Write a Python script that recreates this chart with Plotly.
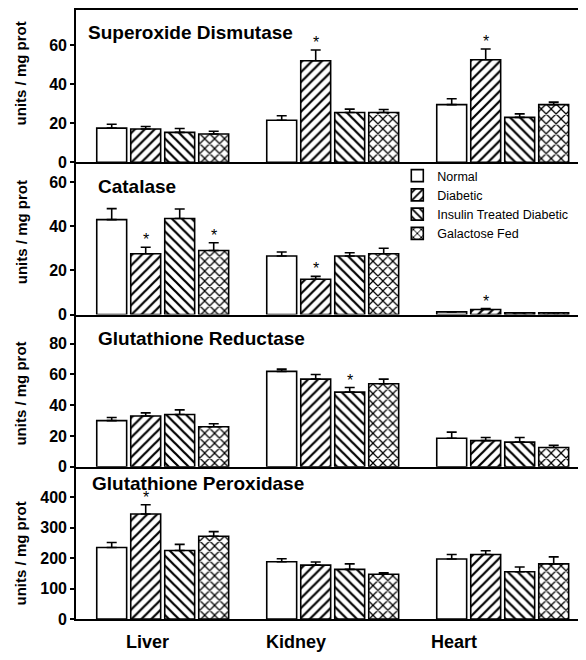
import plotly.graph_objects as go
from plotly.subplots import make_subplots

tissues = ["Liver", "Kidney", "Heart"]
groups = ["Normal", "Diabetic", "Insulin Treated Diabetic", "Galactose Fed"]
enzymes = ["Superoxide Dismutase", "Catalase", "Glutathione Reductase", "Glutathione Peroxidase"]

# rows = groups (Normal, Diabetic, Insulin Treated Diabetic, Galactose Fed); cols = tissues (Liver, Kidney, Heart)
sod_mean = [[17.5, 21.5, 29.5], [17.0, 52.0, 52.5], [15.3, 25.5, 23.0], [14.5, 25.5, 29.5]]
sod_err = [[2.0, 2.3, 3.0], [1.3, 5.5, 5.5], [2.0, 1.7, 1.8], [1.4, 1.5, 1.3]]
sod_sig = [[0, 0, 0], [0, 1, 1], [0, 0, 0], [0, 0, 0]]

cat_mean = [[43.0, 26.5, 1.2], [27.5, 16.0, 2.3], [43.5, 26.5, 0.8], [29.0, 27.5, 0.8]]
cat_err = [[5.0, 1.8, 0.0], [3.0, 1.3, 0.4], [4.3, 1.5, 0.0], [3.5, 2.5, 0.0]]
cat_sig = [[0, 0, 0], [1, 1, 1], [0, 0, 0], [1, 0, 0]]

gr_mean = [[30.0, 62.0, 18.5], [33.0, 57.0, 17.0], [34.0, 48.5, 16.0], [26.0, 54.0, 12.5]]
gr_err = [[2.0, 1.5, 4.0], [2.0, 3.0, 2.0], [3.0, 3.0, 3.0], [2.0, 3.0, 1.5]]
gr_sig = [[0, 0, 0], [0, 0, 0], [0, 1, 0], [0, 0, 0]]

gpx_mean = [[235, 188, 197], [345, 177, 212], [225, 163, 155], [272, 147, 181]]
gpx_err = [[16, 10, 15], [30, 10, 12], [20, 18, 16], [15, 5, 23]]
gpx_sig = [[0, 0, 0], [1, 0, 0], [0, 0, 0], [0, 0, 0]]

y_ranges = [[0, 78], [0, 69], [0, 99], [0, 500]]
y_ticks = [[0, 20, 40, 60], [0, 20, 40, 60], [0, 20, 40, 60, 80], [0, 100, 200, 300, 400]]

panels = [
    (sod_mean, sod_err, sod_sig),
    (cat_mean, cat_err, cat_sig),
    (gr_mean, gr_err, gr_sig),
    (gpx_mean, gpx_err, gpx_sig),
]

FONT = "Liberation Sans, Arial, Helvetica, sans-serif"
offsets = [-0.3, -0.1, 0.1, 0.3]
bar_width = 0.176
patterns = ["", "/", "\\", "x"]
xrefs = ["x", "x2", "x3", "x4"]
yrefs_data = ["y", "y2", "y3", "y4"]

fig = make_subplots(rows=4, cols=1, shared_xaxes=False, vertical_spacing=0)

for r, (means, errs, sigs) in enumerate(panels):
    row = r + 1
    for g, name in enumerate(groups):
        xs = [i + offsets[g] for i in range(len(tissues))]
        fig.add_trace(
            go.Bar(
                x=xs,
                y=means[g],
                width=bar_width,
                name=name,
                legendgroup=name,
                showlegend=(r == 0),
                marker=dict(
                    color="white",
                    line=dict(color="black", width=1.6),
                    pattern=dict(shape=patterns[g], fgcolor="black", bgcolor="white",
                                 fgopacity=1, size=7, solidity=0.32),
                ),
                error_y=dict(type="data", symmetric=False, array=errs[g],
                             arrayminus=[0] * len(tissues), color="black",
                             thickness=1.6, width=5),
            ),
            row=row, col=1,
        )
        for i in range(len(tissues)):
            if sigs[g][i]:
                fig.add_annotation(
                    text="*", xref=xrefs[r], yref=yrefs_data[r],
                    x=i + offsets[g], y=means[g][i] + errs[g][i],
                    xanchor="center", yanchor="bottom", yshift=-3,
                    showarrow=False,
                    font=dict(family=FONT, size=16, color="black"))
    fig.update_yaxes(
        range=y_ranges[r], tickvals=y_ticks[r], ticks="outside", ticklen=4,
        tickwidth=1.5, tickcolor="black", showline=True, linewidth=1.6,
        linecolor="black", showgrid=False, zeroline=False,
        tickfont=dict(family=FONT, size=16, color="black", weight="bold"),
        row=row, col=1,
    )
    fig.update_xaxes(
        range=[-0.51, 2.49], showline=True, linewidth=2, linecolor="black",
        mirror=(r == 0), showticklabels=False, ticks="", showgrid=False,
        zeroline=False, row=row, col=1,
    )

# the page puts the figure 8 px in from the top-left corner
fig.update_layout(
    barmode="overlay",
    width=578, height=652,
    margin=dict(l=68, r=0, t=2, b=41),
    paper_bgcolor="white", plot_bgcolor="white",
    font=dict(family=FONT, color="black"),
    legend=dict(x=0.63, y=0.752, xanchor="left", yanchor="top",
                bgcolor="rgba(0,0,0,0)", font=dict(family=FONT, size=12.5, color="black"),
                tracegroupgap=0, itemwidth=30),
)

yrefs = ["y domain", "y2 domain", "y3 domain", "y4 domain"]
title_pos = [(0.02, 0.85), (0.039, 0.84), (0.039, 0.845), (0.027, 0.89)]
ylabel_pos = [0.583, 0.54, 0.48, 0.43]
for r, title in enumerate(enzymes):
    fig.add_annotation(text=title, xref="paper", yref=yrefs[r],
                       x=title_pos[r][0], y=title_pos[r][1], xanchor="left", yanchor="middle",
                       showarrow=False,
                       font=dict(family=FONT, size=19, color="black", weight="bold"))
    fig.add_annotation(text="units / mg prot", xref="paper", yref=yrefs[r],
                       x=-0.108, y=ylabel_pos[r], xanchor="center", yanchor="middle",
                       textangle=-90, showarrow=False,
                       font=dict(family=FONT, size=15, color="black", weight="bold"))

label_x = [-0.092, 0.784, 1.714]
for t, lx in zip(tissues, label_x):
    fig.add_annotation(text=t, xref="x4", yref="paper", x=lx, y=-0.038,
                       xanchor="center", yanchor="middle", showarrow=False,
                       font=dict(family=FONT, size=18, color="black", weight="bold"))

fig.write_html("out.html")
